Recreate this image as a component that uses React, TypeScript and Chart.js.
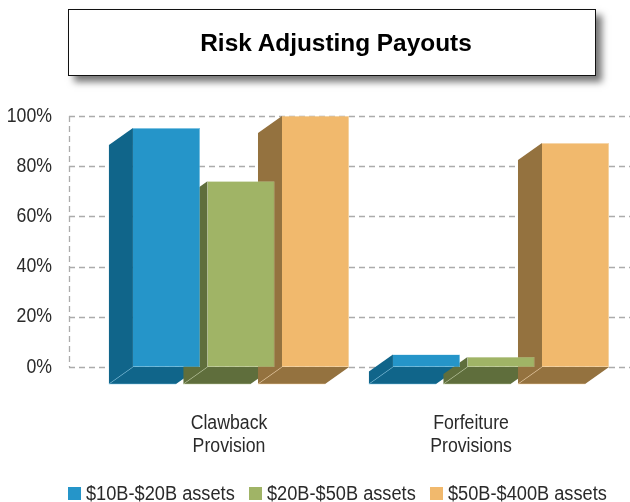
import React, { useEffect, useRef } from "react";
import { Chart, registerables } from "chart.js";

Chart.register(...registerables);

const title = "Risk Adjusting Payouts";
const categories = [["Clawback", "Provision"], ["Forfeiture", "Provisions"]];
const seriesNames = ["$10B-$20B assets", "$20B-$50B assets", "$50B-$400B assets"];
const smallAssets = [95.2, 5];
const midAssets = [74, 4];
const largeAssets = [100, 89.2];
const frontColors = ["#2595c9", "#a0b466", "#f1b96d"];
const depthColors = ["#10658a", "#5f6e3c", "#94723f"];
const edgeColors = ["#7cc3e2", "#c3cfa0", "#f6d7aa"];

const DEPTH_X = 24;
const DEPTH_Y = 17;
const GRID_LEFT = 69;
const NARROW = 0.885;
const LEGEND_NARROW = 0.91;
const FONT = '"Liberation Sans", sans-serif';
const TEXT_COLOR = "#2a2a2a";

const poly = (ctx: CanvasRenderingContext2D, pts: number[][], fill: string) => {
  ctx.beginPath();
  pts.forEach((p, i) => (i ? ctx.lineTo(p[0], p[1]) : ctx.moveTo(p[0], p[1])));
  ctx.closePath();
  ctx.fillStyle = fill;
  ctx.fill();
};

const narrowText = (ctx: CanvasRenderingContext2D, text: string, x: number, y: number) => {
  ctx.save();
  ctx.translate(x, y);
  ctx.scale(NARROW, 1);
  ctx.fillText(text, 0, 0);
  ctx.restore();
};

const scene3d = {
  id: "scene3d",
  beforeDatasetsDraw(chart: any) {
    const { ctx, scales } = chart;
    const y = scales.y;
    const zero = y.getPixelForValue(0);
    const top = y.getPixelForValue(100);
    ctx.save();
    ctx.strokeStyle = "#ababab";
    ctx.lineWidth = 1.3;
    ctx.setLineDash([6, 4]);
    y.ticks.forEach((t: any) => {
      const py = Math.round(y.getPixelForValue(t.value)) + 0.5;
      ctx.beginPath();
      ctx.moveTo(GRID_LEFT, py);
      ctx.lineTo(chart.width, py);
      ctx.stroke();
    });
    ctx.beginPath();
    ctx.moveTo(GRID_LEFT + 0.5, top);
    ctx.lineTo(GRID_LEFT + 0.5, zero);
    ctx.stroke();
    ctx.setLineDash([]);

    chart.data.datasets.forEach((_: any, di: number) => {
      chart.getDatasetMeta(di).data.forEach((bar: any) => {
        const p = bar.getProps(["x", "y", "base", "width"], true);
        const l = p.x - p.width / 2;
        const r = p.x + p.width / 2;
        const dark = depthColors[di];
        poly(ctx, [[l, p.y], [l, zero], [l - DEPTH_X, zero + DEPTH_Y], [l - DEPTH_X, p.y + DEPTH_Y]], dark);
        poly(ctx, [[l, zero], [r, zero], [r - DEPTH_X, zero + DEPTH_Y], [l - DEPTH_X, zero + DEPTH_Y]], dark);
        ctx.strokeStyle = edgeColors[di];
        ctx.lineWidth = 0.5;
        ctx.beginPath();
        ctx.moveTo(l, zero);
        ctx.lineTo(l - DEPTH_X, zero + DEPTH_Y);
        ctx.lineTo(r - DEPTH_X, zero + DEPTH_Y);
        ctx.stroke();
      });
    });
    ctx.restore();
  },
  afterDatasetsDraw(chart: any) {
    const { ctx, scales } = chart;
    const x = scales.x;
    const y = scales.y;
    const zero = y.getPixelForValue(0);
    ctx.save();
    ctx.font = `20px ${FONT}`;
    ctx.fillStyle = TEXT_COLOR;
    ctx.textBaseline = "middle";
    ctx.textAlign = "right";
    y.ticks.forEach((t: any) => narrowText(ctx, t.label, 52, y.getPixelForValue(t.value)));
    ctx.textAlign = "center";
    const first = x.getPixelForValue(0);
    categories.forEach((lines, i) => {
      const cx = first - 12 + (x.getPixelForValue(i) - first) * (242 / 260);
      lines.forEach((line, j) => narrowText(ctx, line, cx, zero + 56 + j * 23));
    });
    ctx.restore();
  },
};

export default function App() {
  const ref = useRef<HTMLCanvasElement>(null);
  useEffect(() => {
    document.body.style.margin = "0";
    const chart = new Chart(ref.current!, {
      type: "bar",
      data: {
        labels: categories.map((c) => c.join(" ")),
        datasets: [smallAssets, midAssets, largeAssets].map((data, i) => ({
          label: seriesNames[i],
          data,
          backgroundColor: frontColors[i],
          borderColor: edgeColors[i],
          borderWidth: 0.6,
          borderSkipped: "left",
          categoryPercentage: 0.86,
          barPercentage: 0.9,
        })),
      },
      options: {
        responsive: false,
        animation: false,
        layout: { padding: { top: 116, bottom: 135, left: 0, right: 0 } },
        plugins: { legend: { display: false }, title: { display: false }, tooltip: { enabled: false } },
        scales: {
          x: { display: false },
          y: {
            min: 0,
            max: 100,
            afterFit: (s: any) => {
              s.width = 111;
            },
            grid: { display: false, drawTicks: false },
            border: { display: false },
            ticks: {
              display: false,
              stepSize: 20,
              callback: (v: any) => `${v}%`,
            },
          },
        },
      },
      plugins: [scene3d],
    } as any);
    return () => chart.destroy();
  }, []);

  return (
    <div style={{ position: "relative", width: 630, height: 502, overflow: "hidden", background: "#fff" }}>
      <canvas ref={ref} width={631} height={502} style={{ position: "absolute", left: 0, top: 0 }} />
      <div
        style={{
          position: "absolute",
          left: 68,
          top: 9,
          width: 526,
          height: 65,
          border: "1.5px solid #111",
          background: "#fff",
          boxShadow: "6px 6px 7px #777",
          display: "flex",
          alignItems: "center",
          justifyContent: "center",
          fontFamily: FONT,
          fontWeight: "bold",
          fontSize: 24.4,
          color: "#000",
        }}
      >
        <span style={{ position: "relative", left: 4 }}>{title}</span>
      </div>
      <div
        style={{
          position: "absolute",
          left: 68,
          top: 482,
          display: "flex",
          alignItems: "center",
          fontFamily: FONT,
          fontSize: 20,
          color: TEXT_COLOR,
          whiteSpace: "nowrap",
        }}
      >
        {seriesNames.map((n, i) => (
          <span key={n} style={{ width: 181, display: "flex", alignItems: "center", gap: 5 }}>
            <span style={{ width: 13, height: 13, background: frontColors[i], display: "inline-block", flex: "none" }} />
            <span style={{ display: "inline-block", transform: `scaleX(${LEGEND_NARROW})`, transformOrigin: "left center" }}>{n}</span>
          </span>
        ))}
      </div>
    </div>
  );
}
